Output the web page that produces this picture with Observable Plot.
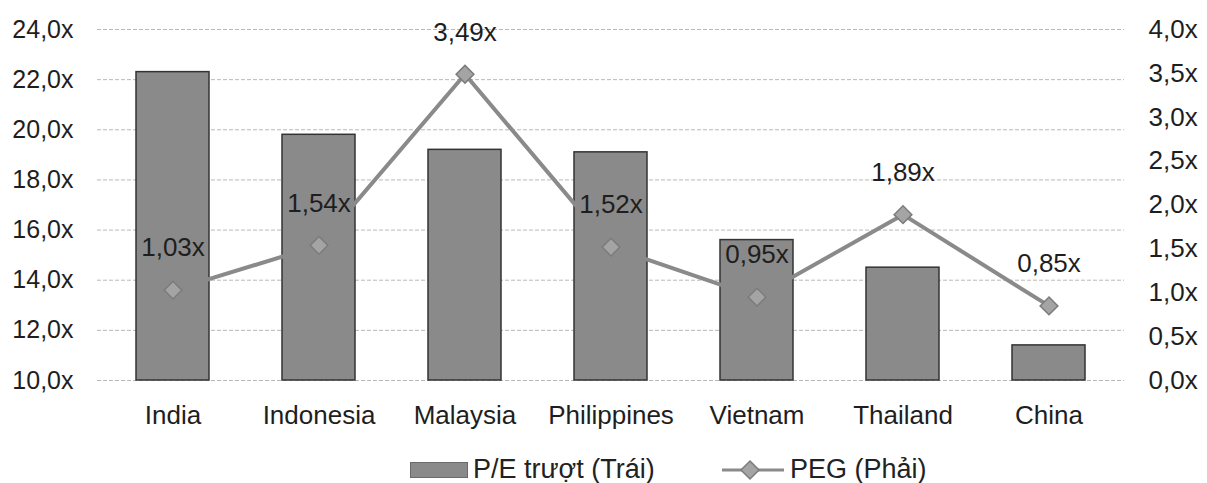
<!DOCTYPE html>
<html>
<head>
<meta charset="utf-8">
<script src="https://cdn.jsdelivr.net/npm/d3@7"></script>
<script src="https://cdn.jsdelivr.net/npm/@observablehq/plot@0.6"></script>
<style>
  html, body { margin: 0; padding: 0; background: #fff; }
  body { width: 1207px; height: 483px; overflow: hidden; font-family: "Liberation Sans", Arial, sans-serif; }
  #legend { position: relative; height: 43px; font-size: 27px; color: #222; line-height: 31px; }
  #legend .item { position: absolute; top: 14px; display: flex; align-items: center; }
</style>
</head>
<body>
<div id="chart"></div>
<div id="legend"></div>
<script>
const countries = ["India", "Indonesia", "Malaysia", "Philippines", "Vietnam", "Thailand", "China"];
const peValues = [22.3, 19.8, 19.2, 19.1, 15.6, 14.5, 11.4];
const pegValues = [1.03, 1.54, 3.49, 1.52, 0.95, 1.89, 0.85];
const leftTicks = [10, 12, 14, 16, 18, 20, 22, 24];
const rightTicks = [0, 0.5, 1, 1.5, 2, 2.5, 3, 3.5, 4];
const seriesNames = ["P/E trượt (Trái)", "PEG (Phải)"];

const leftMin = 10, leftMax = 24, rightMax = 4;
const toLeft = v => leftMin + v * (leftMax - leftMin) / rightMax;
const fmt1 = v => v.toFixed(1).replace(".", ",") + "x";
const fmt2 = v => v.toFixed(2).replace(".", ",") + "x";

const data = countries.map((c, i) => ({country: c, pe: peValues[i], peg: pegValues[i], pegY: toLeft(pegValues[i])}));

const textColor = "#1e1e1e";
const barFill = "#8a8a8a";
const lineColor = "#8a8a8a";

const chart = Plot.plot({
  width: 1207,
  height: 440,
  marginTop: 29,
  marginBottom: 60,
  marginLeft: 97,
  marginRight: 83,
  style: {fontFamily: "'Liberation Sans', Arial, sans-serif", fontSize: "26px", color: textColor, background: "#fff"},
  x: {type: "band", domain: countries, paddingInner: 0.5, paddingOuter: 0.25, label: null},
  y: {domain: [leftMin, leftMax], label: null},
  marks: [
    Plot.ruleY(leftTicks, {stroke: "#b8b8b8", strokeWidth: 1, strokeDasharray: "4,2"}),
    Plot.barY(data, {x: "country", y1: leftMin, y2: "pe", fill: barFill, stroke: "#333", strokeWidth: 1.5}),
    Plot.line(data, {x: "country", y: "pegY", stroke: lineColor, strokeWidth: 4}),
    Plot.dot(data, {x: "country", y: "pegY", symbol: "diamond2", r: 8, fill: "#a4a4a4", stroke: "#7c7c7c", strokeWidth: 1.5}),
    Plot.text(data, {x: "country", y: "pegY", text: d => fmt2(d.peg), dy: -42, fill: textColor, fontSize: 26}),
    Plot.axisY({anchor: "left", ticks: leftTicks, tickFormat: fmt1, tickSize: 0, tickPadding: 24, label: null, fontSize: 25}),
    Plot.axisY({anchor: "right", ticks: rightTicks.map(toLeft), tickFormat: v => fmt1((v - leftMin) * rightMax / (leftMax - leftMin)), tickSize: 0, tickPadding: 24, label: null, fontSize: 26}),
    Plot.axisX({tickSize: 0, tickPadding: 25, label: null, fontSize: 26})
  ]
});
document.getElementById("chart").appendChild(chart);

const legend = document.getElementById("legend");
const item1 = document.createElement("div");
item1.className = "item";
item1.style.left = "410px";
item1.innerHTML = `<svg width="58" height="16" style="margin-right:5px"><rect x="0.5" y="0.5" width="57" height="15" fill="${barFill}" stroke="#6a6a6a"/></svg><span>${seriesNames[0]}</span>`;
legend.appendChild(item1);
const item2 = document.createElement("div");
item2.className = "item";
item2.style.left = "722px";
item2.innerHTML = `<svg width="62" height="22" style="margin-right:6px"><line x1="0" y1="11" x2="62" y2="11" stroke="${lineColor}" stroke-width="3"/><path d="M28,2 L37,11 L28,20 L19,11 Z" fill="#a4a4a4" stroke="#7c7c7c" stroke-width="1.5"/></svg><span>${seriesNames[1]}</span>`;
legend.appendChild(item2);
</script>
</body>
</html>
